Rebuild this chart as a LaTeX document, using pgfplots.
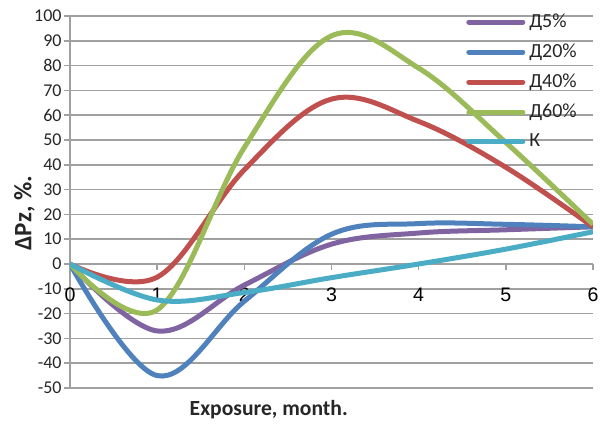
\documentclass[border=0pt]{standalone}
\usepackage{fontspec}
\setmainfont{Carlito}
\newfontfamily\arialf{Liberation Sans}
\usepackage{pgfplots}
\pgfplotsset{compat=1.18}
\definecolor{cP}{HTML}{8064A2}
\definecolor{cB}{HTML}{4F81BD}
\definecolor{cR}{HTML}{C0504D}
\definecolor{cG}{HTML}{9BBB59}
\definecolor{cC}{HTML}{4BACC6}
\definecolor{gridgray}{HTML}{A0A0A0}
\definecolor{txt}{HTML}{262626}
\begin{document}
\begin{tikzpicture}
\path[use as bounding box] (-35pt,-18.5pt) rectangle (265pt,194pt);
\begin{axis}[
  at={(0,0)}, anchor=south west,
  scale only axis, width=261.5pt, height=186pt,
  xmin=0, xmax=6, ymin=-50, ymax=100,
  axis y line=left, axis x line=middle,
  hide obscured x ticks=false, hide obscured y ticks=false,
  axis line style={-, draw=gridgray, line width=0.75pt},
  xtick={0,1,2,3,4,5,6}, ytick={-50,-40,...,100},
  ymajorgrids, grid style={draw=gridgray, line width=0.75pt},
  tick align=outside, major tick length=3pt,
  tick style={draw=gridgray, line width=0.75pt},
  /pgf/number format/assume math mode=true,
  yticklabel style={font=\fontsize{9}{10}\selectfont, text=txt, inner sep=1pt},
  xticklabel style={font=\arialf\fontsize{9.8}{10}\selectfont, text=black, anchor=center, yshift=-12.5pt},
  xlabel={\textbf{Exposure, month.}},
  ylabel={\textbf{ΔPz, \%.}},
  every axis x label/.style={at={(axis description cs:0.38,-0.059)}, anchor=center, font=\fontsize{10.8}{12}\selectfont, text=txt},
  every axis y label/.style={at={(axis description cs:-0.087,0.47)}, rotate=90, anchor=center, font=\fontsize{12.5}{13}\selectfont, text=txt},
  legend style={at={(axis description cs:0.757,1.018)}, anchor=north west, draw=none, fill=none,
    font=\fontsize{10}{11}\selectfont, text=txt, row sep=2.7pt, inner sep=0pt,
    /tikz/every even column/.append style={column sep=0pt}},
  legend cell align=left,
  legend image code/.code={\draw[#1, line cap=round] (0pt,0pt) -- (27pt,0pt);},
  every axis plot/.append style={line width=2.5pt, smooth, tension=0.6, no markers},
]
\addplot[cP] coordinates {(0,0)(1,-27)(2,-8.5)(3,8)(4,12.5)(5,13.8)(6,15)};
\addlegendentry{Д5\%}
\addplot[cB] coordinates {(0,0)(1,-45)(2,-15)(3,12)(4,16.3)(5,16)(6,15)};
\addlegendentry{Д20\%}
\addplot[cR] coordinates {(0,0)(1,-5.3)(2,38)(3,66.5)(4,57.5)(5,39)(6,15)};
\addlegendentry{Д40\%}
\addplot[cG] coordinates {(0,0)(1,-18.5)(2,47)(3,92)(4,79)(5,49)(6,16)};
\addlegendentry{Д60\%}
\addplot[cC] coordinates {(0,0)(1,-14.5)(2,-11.5)(3,-5.5)(4,0)(5,6)(6,13)};
\addlegendentry{К}
\end{axis}
\end{tikzpicture}
\end{document}
